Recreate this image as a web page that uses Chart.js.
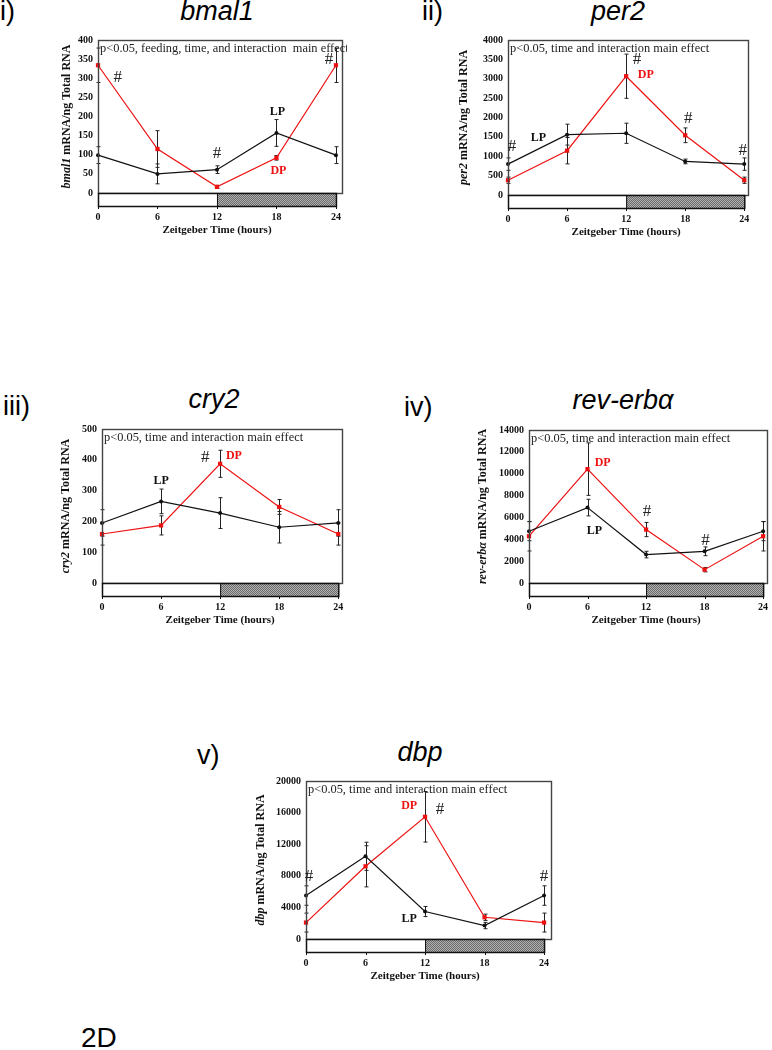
<!DOCTYPE html>
<html>
<head>
<meta charset="utf-8">
<script src="https://cdn.jsdelivr.net/npm/chart.js@4.4.1/dist/chart.umd.min.js"></script>
<style>
  html, body { margin: 0; padding: 0; background: #fff; overflow: hidden; }
  body { position: relative; width: 772px; height: 1050px; }
  canvas { position: absolute; }
  .lbl { position: absolute; font-family: "Liberation Sans", Arial, sans-serif; font-size: 27px; line-height: 27px; color: #000; white-space: nowrap; }
  .gene { font-style: italic; transform: translateX(-50%); }
</style>
</head>
<body>
<div class="lbl" style="left:0px; top:-2px;">i)</div>
<div class="lbl gene" style="left:217px; top:-2px;">bmal1</div>
<div class="lbl" style="left:422px; top:-2px;">ii)</div>
<div class="lbl gene" style="left:618px; top:-2px;">per2</div>
<div class="lbl" style="left:3px; top:393px;">iii)</div>
<div class="lbl gene" style="left:214px; top:386px;">cry2</div>
<div class="lbl" style="left:404px; top:394px;">iv)</div>
<div class="lbl gene" style="left:623px; top:387px;">rev-erbα</div>
<div class="lbl" style="left:197px; top:742px;">v)</div>
<div class="lbl gene" style="left:420px; top:739px;">dbp</div>
<div class="lbl" style="left:81px; top:1024px; font-size:28px; line-height:28px;">2D</div>

<script>
// sampling times (Zeitgeber time, hours)
const hours = [0, 6, 12, 18, 24];
const hourTicks = [0, 6, 12, 18, 24];

// bmal1
const bmal1LP = [99, 50, 61, 157, 99];
const bmal1LPErr = [22, 26, 10, 35, 22];
const bmal1DP = [334, 115, 16, 92, 334];
const bmal1DPErr = [45, 48, 4, 6, 45];

// per2
const per2LP = [797, 1558, 1593, 866, 797];
const per2LPErr = [160, 270, 260, 60, 160];
const per2DP = [381, 1143, 3065, 1541, 381];
const per2DPErr = [80, 340, 570, 190, 80];

// cry2
const cry2LP = [195, 265, 227, 181, 195];
const cry2LPErr = [43, 40, 50, 51, 43];
const cry2DP = [159, 187, 387, 247, 159];
const cry2DPErr = [36, 31, 44, 24, 36];

// rev-erb alpha
const revLP = [4740, 6900, 2600, 2900, 4740];
const revLPErr = [870, 760, 300, 400, 870];
const revDP = [4280, 10420, 4890, 1220, 4280];
const revDPErr = [1350, 2400, 650, 200, 1350];

// dbp
const dbpLP = [5500, 10470, 3480, 1700, 5500];
const dbpLPErr = [1230, 1780, 640, 400, 1230];
const dbpDP = [2080, 9200, 15470, 2750, 2080];
const dbpDPErr = [1200, 2600, 3200, 400, 1200];

// text marks: [text, hour, value]
const bmal1Marks = [['#', 2.0, 302], ['#', 12, 104], ['#', 23.3, 348], ['LP', 18.1, 213], ['DP', 18.2, 57]];
const per2Marks = [['#', 0.4, 1247], ['LP', 3.1, 1463], ['#', 13.1, 3498], ['DP', 14.0, 3108], ['#', 18.3, 1983], ['#', 23.85, 1160]];
const cry2Marks = [['LP', 6.0, 333], ['#', 10.5, 406], ['DP', 13.4, 413]];
const revMarks = [['DP', 7.55, 11006], ['#', 12.1, 6512], ['LP', 6.7, 4739], ['#', 18.1, 3913]];
const dbpMarks = [['#', 0.3, 7924], ['DP', 10.4, 16822], ['#', 13.5, 16398], ['LP', 10.4, 2500], ['#', 24.0, 7924]];

const RED = '#ee1111';
const INK = '#111';
const SERIF = '"Liberation Serif", "Times New Roman", serif';

const panels = [
  { box: [98, 40, 343, 193], xMax: 24.71, yMax: 400, yStep: 50, titleOff: 31, gene: 'bmal1',
    lp: bmal1LP, lpErr: bmal1LPErr, dp: bmal1DP, dpErr: bmal1DPErr, marks: bmal1Marks,
    note: 'p<0.05, feeding, time, and interaction  main effect' },
  { box: [508, 40, 749, 195], xMax: 24.48, yMax: 4000, yStep: 500, titleOff: 44, gene: 'per2',
    lp: per2LP, lpErr: per2LPErr, dp: per2DP, dpErr: per2DPErr, marks: per2Marks,
    note: 'p<0.05, time and interaction main effect' },
  { box: [102, 429, 343, 583], xMax: 24.48, yMax: 500, yStep: 100, titleOff: 36, gene: 'cry2',
    lp: cry2LP, lpErr: cry2LPErr, dp: cry2DP, dpErr: cry2DPErr, marks: cry2Marks,
    note: 'p<0.05, time and interaction main effect' },
  { box: [529, 430, 771, 583], xMax: 24.5, yMax: 14000, yStep: 2000, titleOff: 46, gene: 'rev-erbα',
    lp: revLP, lpErr: revLPErr, dp: revDP, dpErr: revDPErr, marks: revMarks,
    note: 'p<0.05, time and interaction main effect' },
  { box: [306, 781, 552, 939], xMax: 24.8, yMax: 20000, yStep: 4000, titleOff: 45, gene: 'dbp',
    lp: dbpLP, lpErr: dbpLPErr, dp: dbpDP, dpErr: dbpDPErr, marks: dbpMarks,
    note: 'p<0.05, time and interaction main effect' }
];

function hatchPattern(ctx) {
  const c = document.createElement('canvas');
  c.width = 2; c.height = 2;
  const g = c.getContext('2d');
  g.fillStyle = '#b2b2b2'; g.fillRect(0, 0, 2, 2);
  g.fillStyle = '#6a6a6a'; g.fillRect(0, 0, 1, 1); g.fillRect(1, 1, 1, 1);
  return ctx.createPattern(c, 'repeat');
}

function decorFor(p) {
  return {
    id: 'decor',
    beforeDatasetsDraw(chart) {
      const ctx = chart.ctx, xs = chart.scales.x, ys = chart.scales.y;
      ctx.save();
      ctx.strokeStyle = '#222';
      ctx.lineWidth = 1;
      [[p.lp, p.lpErr], [p.dp, p.dpErr]].forEach(([vals, errs]) => {
        vals.forEach((v, i) => {
          const x = Math.round(xs.getPixelForValue(hours[i])) + 0.5;
          const y1 = ys.getPixelForValue(v + errs[i]);
          const y2 = ys.getPixelForValue(Math.max(v - errs[i], 0));
          ctx.beginPath();
          ctx.moveTo(x, y1); ctx.lineTo(x, y2);
          ctx.moveTo(x - 2, y1); ctx.lineTo(x + 2, y1);
          ctx.moveTo(x - 2, y2); ctx.lineTo(x + 2, y2);
          ctx.stroke();
        });
      });
      ctx.restore();
    },
    afterDraw(chart) {
      const ctx = chart.ctx, xs = chart.scales.x, ys = chart.scales.y;
      const a = chart.chartArea;
      ctx.save();
      // plot frame
      ctx.strokeStyle = '#444';
      ctx.lineWidth = 1.4;
      ctx.strokeRect(a.left + 0.5, a.top + 0.5, a.right - a.left - 1, a.bottom - a.top);
      // light / dark bar
      const x0 = xs.getPixelForValue(0), x12 = xs.getPixelForValue(12), x24 = xs.getPixelForValue(24);
      const by = a.bottom, bh = 13;
      ctx.fillStyle = '#fff';
      ctx.fillRect(x0, by, x12 - x0, bh);
      ctx.fillStyle = hatchPattern(ctx);
      ctx.fillRect(x12, by, x24 - x12, bh);
      ctx.strokeStyle = INK;
      ctx.lineWidth = 1.5;
      ctx.strokeRect(x0 + 0.5, by + 0.5, x24 - x0, bh);
      ctx.beginPath();
      ctx.moveTo(x12 + 0.5, by); ctx.lineTo(x12 + 0.5, by + bh);
      hourTicks.forEach(h => {
        const x = Math.round(xs.getPixelForValue(h)) + 0.5;
        ctx.moveTo(x, by + bh); ctx.lineTo(x, by + bh + 3);
      });
      ctx.lineWidth = 1;
      ctx.stroke();
      // x title
      ctx.fillStyle = INK;
      ctx.font = 'bold 11px ' + SERIF;
      ctx.textAlign = 'center';
      ctx.textBaseline = 'middle';
      ctx.fillText('Zeitgeber Time (hours)', (x0 + x24) / 2, a.bottom + 37);
      // y title, gene name in italics
      const rest = ' mRNA/ng Total RNA';
      ctx.translate(a.left - p.titleOff, (a.top + a.bottom) / 2);
      ctx.rotate(-Math.PI / 2);
      ctx.font = 'bold italic 12px ' + SERIF;
      const w1 = ctx.measureText(p.gene).width;
      ctx.font = 'bold 12px ' + SERIF;
      const w2 = ctx.measureText(rest).width;
      ctx.textAlign = 'left';
      ctx.font = 'bold italic 12px ' + SERIF;
      ctx.fillText(p.gene, -(w1 + w2) / 2, 0);
      ctx.font = 'bold 12px ' + SERIF;
      ctx.fillText(rest, -(w1 + w2) / 2 + w1, 0);
      ctx.setTransform(1, 0, 0, 1, 0, 0);
      // statistics note
      ctx.fillStyle = '#222';
      ctx.font = '12.4px ' + SERIF;
      ctx.textAlign = 'left';
      ctx.textBaseline = 'alphabetic';
      ctx.fillText(p.note, a.left + 2, a.top + 12);
      // marks
      ctx.textAlign = 'center';
      ctx.textBaseline = 'middle';
      p.marks.forEach(([t, h, v]) => {
        const x = xs.getPixelForValue(h), y = ys.getPixelForValue(v);
        if (t === '#') {
          ctx.font = '17px ' + SERIF;
          ctx.fillStyle = '#222';
        } else {
          ctx.font = 'bold 12px ' + SERIF;
          ctx.fillStyle = t === 'DP' ? RED : INK;
        }
        ctx.fillText(t, x, y);
      });
      ctx.restore();
    }
  };
}

function makeChart(p) {
  const [L, T, R, B] = p.box;
  const cl = L - 75, ct = T - 12;
  const cw = Math.min(R + 4, 772) - cl;
  const ch = B + 48 - ct;
  const canvas = document.createElement('canvas');
  canvas.width = cw; canvas.height = ch;
  canvas.style.left = cl + 'px'; canvas.style.top = ct + 'px';
  canvas.style.width = cw + 'px'; canvas.style.height = ch + 'px';
  document.body.appendChild(canvas);

  const tickFont = { family: SERIF, size: 10, weight: 'bold' };
  new Chart(canvas.getContext('2d'), {
    type: 'line',
    data: {
      datasets: [
        { label: 'LP', data: hours.map((h, i) => ({ x: h, y: p.lp[i] })),
          borderColor: INK, backgroundColor: INK, borderWidth: 1.2,
          pointRadius: 2, pointStyle: 'circle', pointBorderWidth: 0, clip: false },
        { label: 'DP', data: hours.map((h, i) => ({ x: h, y: p.dp[i] })),
          borderColor: RED, backgroundColor: RED, borderWidth: 1.2,
          pointRadius: 3, pointStyle: 'rect', pointBorderWidth: 0, clip: false }
      ]
    },
    options: {
      responsive: false,
      animation: false,
      devicePixelRatio: 1,
      layout: { padding: { left: 0, top: 12, right: cw - (R - cl), bottom: 0 } },
      plugins: { legend: { display: false }, tooltip: { enabled: false } },
      scales: {
        x: {
          type: 'linear', min: 0, max: p.xMax,
          // invisible tick marks push the labels below the light/dark bar
          grid: { display: true, drawOnChartArea: false, drawTicks: true, tickLength: 18, color: 'rgba(0,0,0,0)' },
          border: { display: false },
          afterBuildTicks: s => { s.ticks = hourTicks.map(v => ({ value: v })); },
          afterFit: s => { s.height = 48; },
          ticks: { padding: 0, color: INK, font: tickFont, maxRotation: 0, autoSkip: false }
        },
        y: {
          min: 0, max: p.yMax,
          grid: { display: false, drawTicks: false }, border: { display: false },
          afterFit: s => { s.width = 75; },
          ticks: { stepSize: p.yStep, padding: 5, color: INK, font: tickFont, callback: v => String(v) }
        }
      }
    },
    plugins: [decorFor(p)]
  });
}

panels.forEach(makeChart);
</script>
</body>
</html>
